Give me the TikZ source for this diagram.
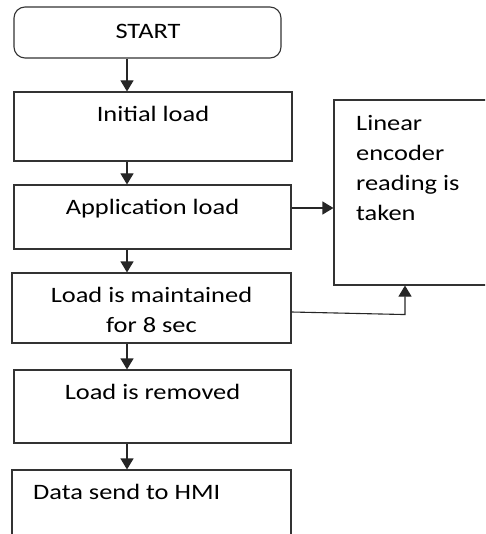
\documentclass[tikz,border=0pt]{standalone}
\usepackage{fontspec}
\setmainfont{Carlito}[FakeStretch=1.2]
\usetikzlibrary{arrows.meta,positioning}

\tikzset{
	box/.style={draw=black!80, line width=1.1pt, rectangle, inner sep=0pt},
	txt/.style={inner sep=0pt, text=black, font=\fontsize{22}{30}\selectfont},
	arr/.style={draw=black!85, line width=1.1pt, -{Triangle[length=11pt,width=13pt]}}
}

\begin{document}
\begin{tikzpicture}[x=1pt, y=-1pt]
			\useasboundingbox (0,0) rectangle (485,534);
			\clip (0,0) rectangle (485,534);

			\node[box, rounded corners=11pt, minimum width=267pt, minimum height=51pt] (start) at (147.5,32.5) {};
			\node[box, minimum width=278pt, minimum height=69pt] (init) at (153,126.5) {};
			\node[box, minimum width=277pt, minimum height=64pt] (app) at (152.5,217) {};
			\node[box, minimum width=279pt, minimum height=70pt] (hold) at (151.5,308) {};
			\node[box, minimum width=277pt, minimum height=73pt] (remove) at (152.5,406.5) {};
			\node[box, minimum width=279pt, minimum height=90pt] (send) at (151.5,515) {};
			\node[box, minimum width=186pt, minimum height=185pt] (enc) at (427,192.5) {};

			\node[txt] (starttxt) at (148,31) {START};
			\node[txt, below=15pt of init.north] (inittxt) {Initial load};
			\node[txt, below=15pt of app.north] (apptxt) {Application load};
			\node[txt, below=15pt of hold.north, align=center] (holdtxt) {Load is maintained\\for 8 sec};
			\node[txt, below=15pt of remove.north] (removetxt) {Load is removed};
			\node[txt, anchor=north west] (sendtxt) at (33,484) {Data send to HMI};
			\node[txt, anchor=north west, align=left] (enctxt) at (356,115) {Linear\\encoder\\reading is\\taken};

			\coordinate (ax) at (127,0);
			\draw[arr] (ax |- start.south) -- (ax |- init.north);
			\draw[arr] (ax |- init.south) -- (ax |- app.north);
			\draw[arr] (ax |- app.south) -- (ax |- hold.north);
			\draw[arr] (ax |- hold.south) -- (ax |- remove.north);
			\draw[arr] (ax |- remove.south) -- (ax |- send.north);

			\draw[arr] ([yshift=9pt]app.east) coordinate (a) -- (a -| enc.west);
			\draw[arr] ([yshift=-4pt]hold.east) -- ([xshift=-22pt,yshift=-29pt]enc.south) -- ([xshift=-22pt]enc.south);
		\end{tikzpicture}
\end{document}
